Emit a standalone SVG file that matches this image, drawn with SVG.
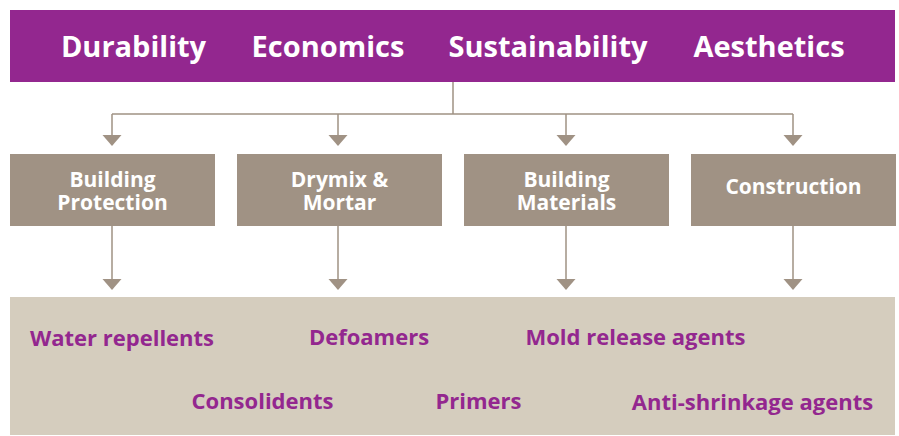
<svg xmlns="http://www.w3.org/2000/svg" width="899" height="436" viewBox="0 0 899 436">
<style>
.top{fill:#93278f}
.hdr{font-family:"Open Sans","Noto Sans",sans-serif;font-weight:700;font-size:29px;fill:#ffffff;text-anchor:middle}
.box{fill:#a09284}
.bt{font-family:"Open Sans","Noto Sans",sans-serif;font-weight:700;font-size:21px;fill:#ffffff;text-anchor:middle}
.panel{fill:#d5cdbe}
.it{font-family:"Open Sans","Noto Sans",sans-serif;font-weight:700;font-size:22px;fill:#93278f;text-anchor:middle}
.ln{stroke:#a09284;stroke-width:1.5;fill:none}
.ah{fill:#a09284}
</style>
<defs>
<polygon id="arr" points="-9.5,0 9.5,0 0,11" class="ah"/>
</defs>
<g id="header">
<rect class="top" x="10" y="10" width="885" height="72"/>
<text class="hdr" x="133.5" y="57">Durability</text>
<text class="hdr" x="328" y="57">Economics</text>
<text class="hdr" x="548" y="57">Sustainability</text>
<text class="hdr" x="769" y="57">Aesthetics</text>
</g>
<g id="connectors">
<path class="ln" d="M453,82 V114 M112,114 H793 M112,114 V135 M338,114 V135 M566,114 V135 M793,114 V135"/>
<use href="#arr" x="112" y="135"/>
<use href="#arr" x="338" y="135"/>
<use href="#arr" x="566" y="135"/>
<use href="#arr" x="793" y="135"/>
<path class="ln" d="M112,226 V279 M338,226 V279 M566,226 V279 M793,226 V279"/>
<use href="#arr" x="112" y="279"/>
<use href="#arr" x="338" y="279"/>
<use href="#arr" x="566" y="279"/>
<use href="#arr" x="793" y="279"/>
</g>
<g id="building-protection">
<rect class="box" x="10" y="154" width="205" height="72"/>
<text class="bt"><tspan x="112.5" y="187">Building</tspan><tspan x="112.5" y="210">Protection</tspan></text>
</g>
<g id="drymix-mortar">
<rect class="box" x="237" y="154" width="205" height="72"/>
<text class="bt"><tspan x="339.5" y="187">Drymix &amp;</tspan><tspan x="339.5" y="210">Mortar</tspan></text>
</g>
<g id="building-materials">
<rect class="box" x="464" y="154" width="205" height="72"/>
<text class="bt"><tspan x="566.5" y="187">Building</tspan><tspan x="566.5" y="210">Materials</tspan></text>
</g>
<g id="construction">
<rect class="box" x="691" y="154" width="205" height="72"/>
<text class="bt" x="793.5" y="194">Construction</text>
</g>
<g id="products">
<rect class="panel" x="10" y="297" width="885" height="138"/>
<text class="it" x="122" y="346">Water repellents</text>
<text class="it" x="369" y="345">Defoamers</text>
<text class="it" x="635.5" y="345">Mold release agents</text>
<text class="it" x="262.5" y="409">Consolidents</text>
<text class="it" x="478.5" y="409">Primers</text>
<text class="it" x="752.5" y="410">Anti-shrinkage agents</text>
</g>
</svg>
